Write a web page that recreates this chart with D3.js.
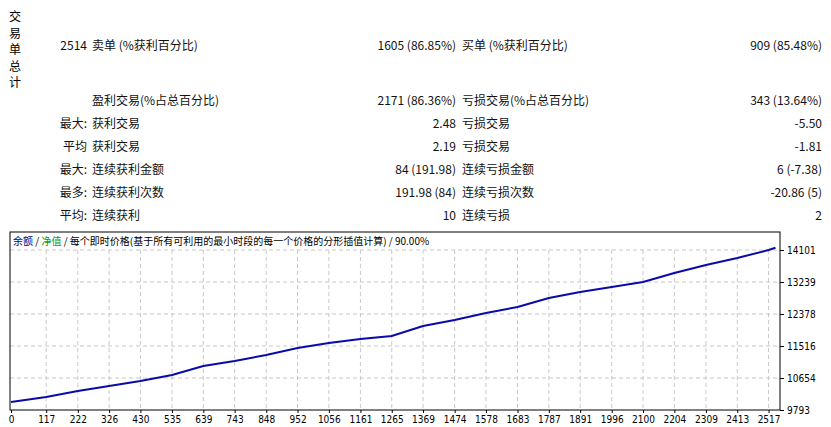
<!DOCTYPE html>
<html><head><meta charset="utf-8">
<script src="https://cdn.jsdelivr.net/npm/d3@7"></script>
<style>body{margin:0;background:#fff;}svg{display:block;font-family:"Noto Sans CJK SC",sans-serif;}</style>
</head><body><svg id="c" width="831" height="427"></svg>
<script>
const xTicks=[0,117,222,326,430,535,639,743,848,952,1056,1161,1265,1369,1474,1578,1683,1787,1891,1996,2100,2204,2309,2413,2517];
const yTicks=[9793,10654,11516,12378,13239,14101];
const balX=[0,117,222,326,430,535,639,743,848,952,1056,1161,1265,1369,1474,1578,1683,1787,1891,1996,2100,2204,2309,2413,2517,2540];
const balY=[10008,10143,10305,10439,10574,10735,10978,11112,11274,11462,11597,11705,11785,12055,12216,12405,12566,12809,12970,13105,13239,13482,13697,13886,14101,14160];
const rows=[
 ["2514","卖单 (%获利百分比)","1605 (86.85%)","买单 (%获利百分比)","909 (85.48%)"],
 ["","盈利交易(%占总百分比)","2171 (86.36%)","亏损交易(%占总百分比)","343 (13.64%)"],
 ["最大:","获利交易","2.48","亏损交易","-5.50"],
 ["平均","获利交易","2.19","亏损交易","-1.81"],
 ["最大:","连续获利金额","84 (191.98)","连续亏损金额","6 (-7.38)"],
 ["最多:","连续获利次数","191.98 (84)","连续亏损次数","-20.86 (5)"],
 ["平均:","连续获利","10","连续亏损","2"]];
const rowY=[46,101,124,147,170,193,216];
const svg=d3.select("#c");
const vt="交易单总计".split("");
svg.selectAll("text.v").data(vt).join("text").attr("x",15).attr("y",(d,i)=>21+i*16.5)
 .attr("text-anchor","middle").attr("font-size",12).text(d=>d);
const cols=[{x:87,a:"end"},{x:92,a:"start"},{x:456,a:"end"},{x:462,a:"start"},{x:822,a:"end"}];
rows.forEach((r,i)=>r.forEach((t,j)=>{svg.append("text").attr("x",cols[j].x).attr("y",rowY[i]+4)
 .attr("text-anchor",cols[j].a).attr("font-size",12).attr("fill","#111").text(t);}));
const L=10,R=780,T=232,B=410;
const x=d3.scaleLinear().domain([0,2555]).range([11,R]);
const y=d3.scaleLinear().domain([9793,14101]).range([B,250]);
const g=svg.append("g");
g.selectAll("line.gx").data(xTicks.slice(1)).join("line").attr("x1",d=>x(d)).attr("x2",d=>x(d)).attr("y1",T+18).attr("y2",B)
 .attr("stroke","#c8c8c8").attr("stroke-dasharray","4,3");
g.selectAll("line.gy").data(yTicks.slice(1)).join("line").attr("x1",L).attr("x2",R).attr("y1",d=>y(d)).attr("y2",d=>y(d))
 .attr("stroke","#c8c8c8").attr("stroke-dasharray","4,3");
svg.append("path").datum(balX.map((v,i)=>[v,balY[i]])).attr("fill","none").attr("stroke","#0a0aa8").attr("stroke-width",2)
 .attr("d",d3.line().x(d=>x(d[0])).y(d=>y(d[1])));
svg.append("rect").attr("x",L).attr("y",T).attr("width",R-L).attr("height",B-T).attr("fill","none").attr("stroke","#000");
const xa=svg.append("g").attr("transform",`translate(0,${B})`).call(d3.axisBottom(x).tickValues(xTicks).tickSize(3).tickFormat(d3.format("d")));
xa.select(".domain").remove();
xa.selectAll("text").attr("font-size",10).attr("fill","#000").attr("font-family","DejaVu Sans Condensed, sans-serif");
const ya=svg.append("g").attr("transform",`translate(${R},0)`).call(d3.axisRight(y).tickValues(yTicks).tickSize(4).tickFormat(d3.format("d")));
ya.select(".domain").remove();
ya.selectAll("text").attr("font-size",10).attr("fill","#000").attr("font-family","DejaVu Sans Condensed, sans-serif");
const lg=svg.append("text").attr("x",13).attr("y",245).attr("font-size",10);
lg.append("tspan").attr("fill","#000080").text("余额");
lg.append("tspan").attr("fill","#000").text(" / ");
lg.append("tspan").attr("fill","#00a000").text("净值");
lg.append("tspan").attr("fill","#000").text(" / 每个即时价格(基于所有可利用的最小时段的每一个价格的分形插值计算) / 90.00%");
</script></body></html>
